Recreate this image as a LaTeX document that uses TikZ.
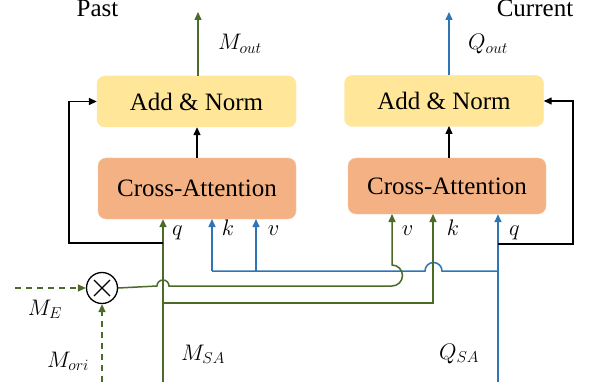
\RequirePackage{fix-cm}
\documentclass[tikz,border=0pt]{standalone}
\usepackage{fontspec}
\setmainfont{Liberation Serif}
\usetikzlibrary{arrows.meta,calc}
\definecolor{gline}{HTML}{4A6B2A}
\definecolor{bline}{HTML}{2E75B6}
\definecolor{addfill}{HTML}{FFE699}
\definecolor{crossfill}{HTML}{F4B183}
\definecolor{crossdraw}{HTML}{F8CBAD}
\tikzset{
  addbox/.style={draw=addfill, fill=addfill, rounded corners=8pt, minimum width=199pt, minimum height=51pt, font=\fontsize{25}{29}\selectfont, inner sep=0pt},
  crossbox/.style={draw=crossdraw, fill=crossfill, rounded corners=8pt, minimum width=198pt, font=\fontsize{25}{29}\selectfont, inner sep=0pt},
  tip/.style={-{Triangle[length=8pt,width=7pt]}},
  garrow/.style={gline, line width=1.5pt, tip},
  gpath/.style={gline, line width=1.5pt},
  barrow/.style={bline, line width=1.5pt, tip},
  bpath/.style={bline, line width=1.5pt},
  karrow/.style={black, line width=1.4pt, tip},
  gdash/.style={gline, line width=1.5pt, dash pattern=on 6pt off 5pt, tip},
  ttl/.style={font=\fontsize{25}{29}\selectfont, anchor=base, inner sep=0pt},
  lbl/.style={font=\fontsize{22.5}{26}\selectfont, anchor=base, inner sep=0pt},
}
\begin{document}
\begin{tikzpicture}[x=1pt,y=-1pt]
\useasboundingbox[fill=white] (0,0) rectangle (591,382);
% boxes
\node[addbox] (an1) at (196.5,101.5) {Add \& Norm};
\node[crossbox, minimum height=61pt] (ca1) at (197,188.5) {Cross-Attention};
\node[addbox] (an2) at (444,101) {Add \& Norm};
\node[crossbox, minimum height=56pt] (ca2) at (447,186) {Cross-Attention};
% multiply
\node[draw, circle, line width=1.3pt, minimum size=31pt, inner sep=0pt] (mul) at (102,288) {};
\draw[line width=1.3pt] ($(mul.center)+(-8,-8)$) -- ($(mul.center)+(8,8)$);
\draw[line width=1.3pt] ($(mul.center)+(-8,8)$) -- ($(mul.center)+(8,-8)$);
% titles
\node[ttl] (past) at (97.5,17) {Past};
\node[ttl] (cur) at (535,17) {Current};
% coordinates
\coordinate (out1) at (198,12);
\coordinate (out2) at (449,12);
\coordinate (qin) at (163,382);
\coordinate (qsa) at (498,382);
\coordinate (meL) at (15,288);
\coordinate (moB) at (102,382);
% outputs
\draw[garrow] (out1 |- an1.north) -- (out1);
\draw[barrow] (out2 |- an2.north) -- (out2);
% inner arrows
\draw[karrow] (ca1.north) -- (ca1.north |- an1.south);
\draw[karrow] (449,158) -- (449,126);
% green q
\draw[garrow] (qin) -- (qin |- ca1.south);
% blue Q
\draw[barrow] (qsa) -- (qsa |- ca2.south);
% feedback
\draw[karrow] (163,243) -- (69,243) |- (an1.west);
\draw[karrow] (498,244) -- (573,244) |- (an2.east);
% blue k, v
\draw[bpath] (212,271) -- (425,271) arc[start angle=180,end angle=360,radius=8.5] -- (498,271);
\draw[barrow] (212,271) -- (212,219);
\draw[barrow] (256,271) -- (256,219);
% green from mul to v
\draw[garrow] (mul.east) -- (157,286) arc[start angle=180,end angle=360,radius=6] -- (392,286) arc[start angle=90,end angle=-90,radius=10.5] -- (392,214);
% green from q to k
\draw[garrow] (163,303) -- (433,303) -- (433,214);
% dashed inputs
\draw[gdash] (meL) -- (mul.west);
\draw[gdash] (moB) -- (mul.south);
% labels
\node[lbl] (lmout) at (240,50) {$M_{out}$};
\node[lbl] (lqout) at (488,50) {$Q_{out}$};
\node[lbl] (lq1) at (177.5,235) {$q$};
\node[lbl] (lk1) at (228,235) {$k$};
\node[lbl] (lv1) at (273.5,235) {$v$};
\node[lbl] (lv2) at (407.5,235) {$v$};
\node[lbl] (lk2) at (453,235) {$k$};
\node[lbl] (lq2) at (514.5,235) {$q$};
\node[lbl] (lme) at (45,315) {$M_E$};
\node[lbl] (lmori) at (68,367) {$M_{ori}$};
\node[lbl] (lmsa) at (203,360) {$M_{SA}$};
\node[lbl] (lqsa) at (459,359) {$Q_{SA}$};
\end{tikzpicture}
\end{document}
